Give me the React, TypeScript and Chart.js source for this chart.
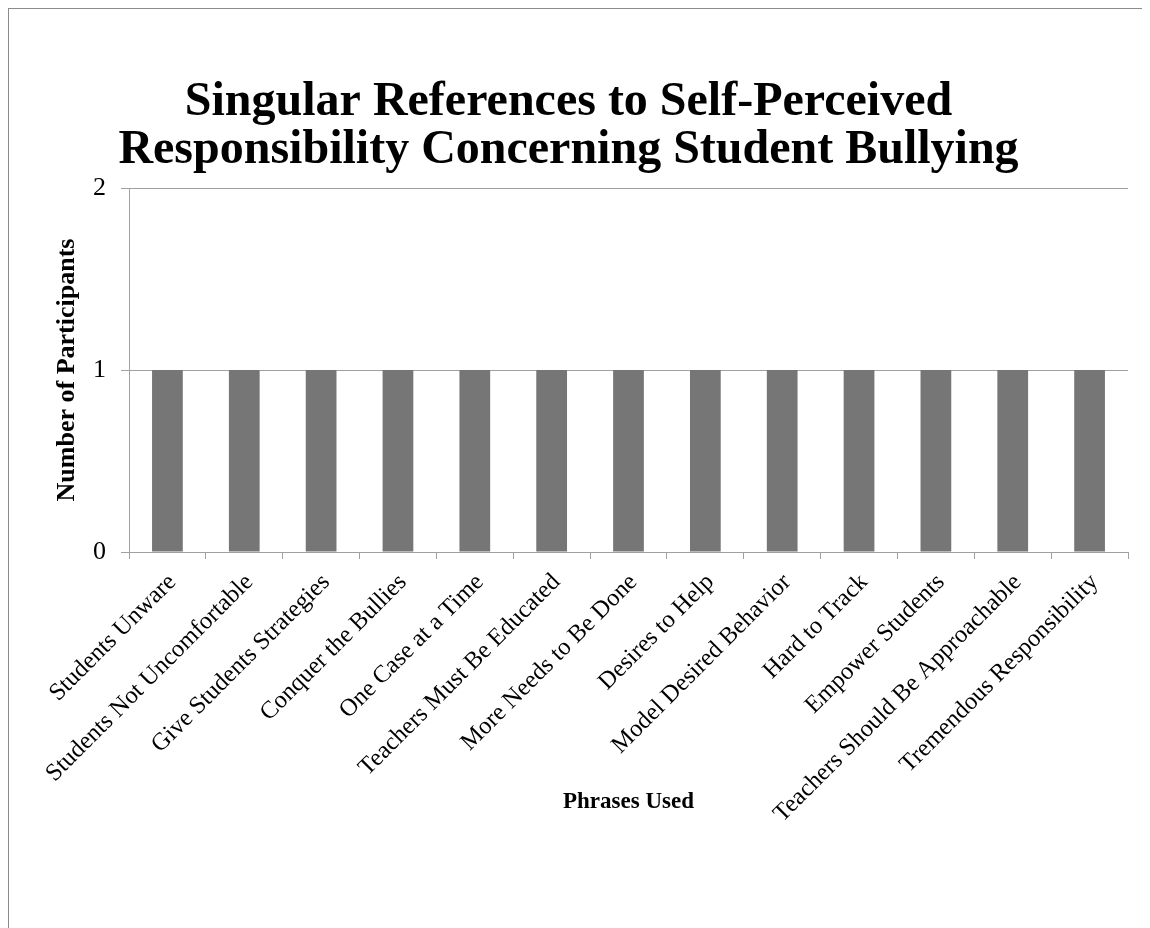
import React, { useEffect, useRef } from "react";
import { Chart, registerables } from "chart.js";

Chart.register(...registerables);

const categories: string[] = [
  "Students Unware",
  "Students Not Uncomfortable",
  "Give Students Strategies",
  "Conquer the Bullies",
  "One Case at a Time",
  "Teachers Must Be Educated",
  "More Needs to Be Done",
  "Desires to Help",
  "Model Desired Behavior",
  "Hard to Track",
  "Empower Students",
  "Teachers Should Be Approachable",
  "Tremendous Responsibility",
];
const participants: number[] = [1, 1, 1, 1, 1, 1, 1, 1, 1, 1, 1, 1, 1];
const titleLines: string[] = [
  "Singular References to Self-Perceived",
  "Responsibility Concerning Student Bullying",
];
const yAxisTitle = "Number of Participants";
const xAxisTitle = "Phrases Used";

const SERIF = "'Liberation Serif', 'Times New Roman', Times, serif";
const GRID = "#a0a0a0";

export default function App() {
  const ref = useRef<HTMLCanvasElement | null>(null);

  useEffect(() => {
    document.documentElement.style.overflow = "hidden";
    document.body.style.overflow = "hidden";
    if (!ref.current) return;
    const chart = new Chart(ref.current, {
      type: "bar",
      data: {
        labels: categories,
        datasets: [
          {
            label: "Participants",
            data: participants,
            backgroundColor: "#767676",
            borderWidth: 0,
            categoryPercentage: 1,
            barPercentage: 0.4,
          },
        ],
      },
      options: {
        responsive: false,
        animation: false,
        devicePixelRatio: 1,
        layout: { padding: { left: 0, right: 31, top: 0, bottom: 0 } },
        plugins: {
          legend: { display: false },
          tooltip: { enabled: false },
          title: {
            display: true,
            text: titleLines,
            color: "#000",
            font: { family: SERIF, size: 48, weight: "bold", lineHeight: 1.0 },
            padding: { top: 70, bottom: 13 },
          },
        },
        scales: {
          x: {
            grid: {
              drawOnChartArea: false,
              drawTicks: true,
              tickLength: 7,
              color: GRID,
              offset: true,
            },
            border: { display: true, color: GRID, width: 1 },
            ticks: {
              color: "#000",
              font: { family: SERIF, size: 24.5 },
              minRotation: 45,
              maxRotation: 45,
              autoSkip: false,
              padding: 9,
              labelOffset: 5,
            },
            title: {
              display: true,
              text: xAxisTitle,
              color: "#000",
              font: { family: SERIF, size: 23, weight: "bold" },
              padding: { top: 0, bottom: 123 },
            },
            afterFit: (scale: any) => {
              scale.height = 930 - 543;
            },
          },
          y: {
            min: 0,
            max: 2,
            ticks: {
              stepSize: 1,
              color: "#000",
              font: { family: SERIF, size: 26 },
              padding: 15,
            },
            grid: {
              color: GRID,
              drawTicks: true,
              tickLength: 8,
            },
            border: { display: true, color: GRID, width: 1 },
            title: {
              display: true,
              text: yAxisTitle,
              color: "#000",
              font: { family: SERIF, size: 26, weight: "bold" },
              padding: { top: 43, bottom: 0 },
            },
            afterFit: (scale: any) => {
              scale.width = 120;
            },
          },
        },
      },
    });
    return () => chart.destroy();
  }, []);

  return (
    <div
      style={{
        width: 1160,
        height: 940,
        border: "1.5px solid #8c8c8c",
        boxSizing: "border-box",
        background: "#fff",
      }}
    >
      <canvas ref={ref} width={1150} height={930} style={{ display: "block" }} />
    </div>
  );
}
